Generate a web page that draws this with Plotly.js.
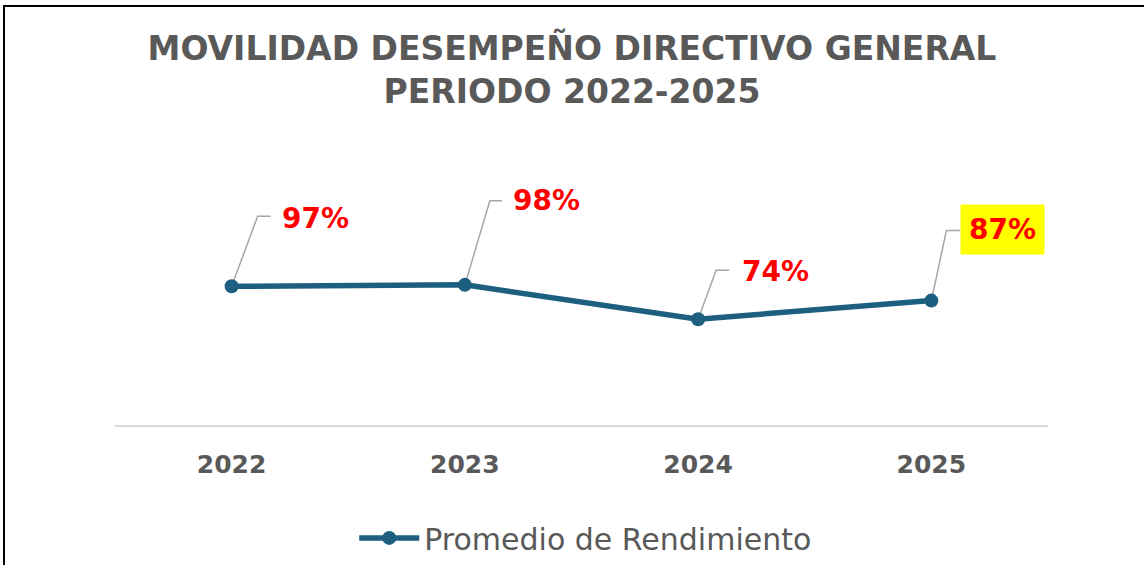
<!DOCTYPE html>
<html>
<head>
<meta charset="utf-8">
<script src="https://cdn.plot.ly/plotly-3.0.1.min.js"></script>
<style>
  html, body { margin: 0; padding: 0; background: #ffffff; }
  #chart { position: absolute; left: 0; top: 0; width: 1144px; height: 565px; }
  #frame { position: absolute; left: 3px; top: 5px; width: 1141px; height: 560px;
           border-top: 2px solid #000; border-left: 2px solid #000; box-sizing: border-box;
           pointer-events: none; }
</style>
</head>
<body>
<div id="chart"></div>
<div id="frame"></div>
<script>
// ---- data ----
const years = ['2022', '2023', '2024', '2025'];
const rendimiento = [0.97, 0.98, 0.74, 0.87];
const labelTexts = ['97%', '98%', '74%', '87%'];
const seriesName = 'Promedio de Rendimiento';
const highlighted = [false, false, false, true];

// ---- label placement (pixel offsets from each point) ----
const leaderDx = [26, 25, 18, 15];
const leaderDy = [70, 84, 49, 70];
const leaderTail = [13, 12, 13, 14];
const labelDx = [48, 46, 42, 29];
const labelDy = [68, 84, 48, 71];

const lineColor = '#1d5f80';
const textGray = '#595959';

const trace = {
  x: years,
  y: rendimiento,
  type: 'scatter',
  mode: 'lines+markers',
  name: seriesName,
  line: { color: lineColor, width: 5.5 },
  marker: { color: lineColor, size: 14 },
  hoverinfo: 'skip'
};

const shapes = [];
const annotations = [];
years.forEach((yr, i) => {
  const dx = leaderDx[i], dy = leaderDy[i], t = leaderTail[i];
  shapes.push({
    type: 'path',
    xref: 'x', yref: 'y',
    xsizemode: 'pixel', ysizemode: 'pixel',
    xanchor: i, yanchor: rendimiento[i],
    path: 'M0,0 L' + dx + ',' + dy + ' L' + (dx + t) + ',' + dy,
    line: { color: '#a6a6a6', width: 1.5 },
    layer: 'below'
  });
  const ann = {
    x: i, y: rendimiento[i],
    xref: 'x', yref: 'y',
    text: '<b>' + labelTexts[i] + '</b>',
    showarrow: false,
    xanchor: 'left', yanchor: 'middle',
    xshift: labelDx[i], yshift: labelDy[i],
    font: { family: 'DejaVu Sans', size: 28, color: '#ff0000' }
  };
  if (highlighted[i]) {
    ann.bgcolor = '#ffff00';
    ann.borderpad = 8;
  }
  annotations.push(ann);
});

const layout = {
  width: 1144,
  height: 565,
  paper_bgcolor: 'rgba(0,0,0,0)',
  plot_bgcolor: 'rgba(0,0,0,0)',
  margin: { l: 115, r: 96, t: 139, b: 140 },
  title: {
    text: '<b>MOVILIDAD DESEMPEÑO DIRECTIVO GENERAL<br>PERIODO 2022-2025</b>',
    font: { family: 'DejaVu Sans', size: 33, color: textGray },
    x: 0.5, xanchor: 'center',
    y: 0.893, yanchor: 'top'
  },
  xaxis: {
    type: 'category',
    range: [-0.5, 3.5],
    showline: true,
    linecolor: '#d9d9d9',
    linewidth: 1.5,
    showgrid: false,
    zeroline: false,
    ticks: '',
    ticklabelstandoff: 16,
    tickfont: { family: 'DejaVu Sans', size: 25, color: textGray, weight: 'bold' },
    fixedrange: true
  },
  yaxis: {
    range: [0, 2],
    visible: false,
    showgrid: false,
    zeroline: false,
    fixedrange: true
  },
  showlegend: true,
  legend: {
    orientation: 'h',
    xref: 'container', yref: 'container',
    x: 0.512, xanchor: 'center',
    y: 0.048, yanchor: 'middle',
    font: { family: 'DejaVu Sans', size: 30, color: textGray },
    itemwidth: 60,
    bgcolor: 'rgba(0,0,0,0)'
  },
  shapes: shapes,
  annotations: annotations
};

Plotly.newPlot('chart', [trace], layout, { displayModeBar: false, staticPlot: true });
</script>
</body>
</html>
